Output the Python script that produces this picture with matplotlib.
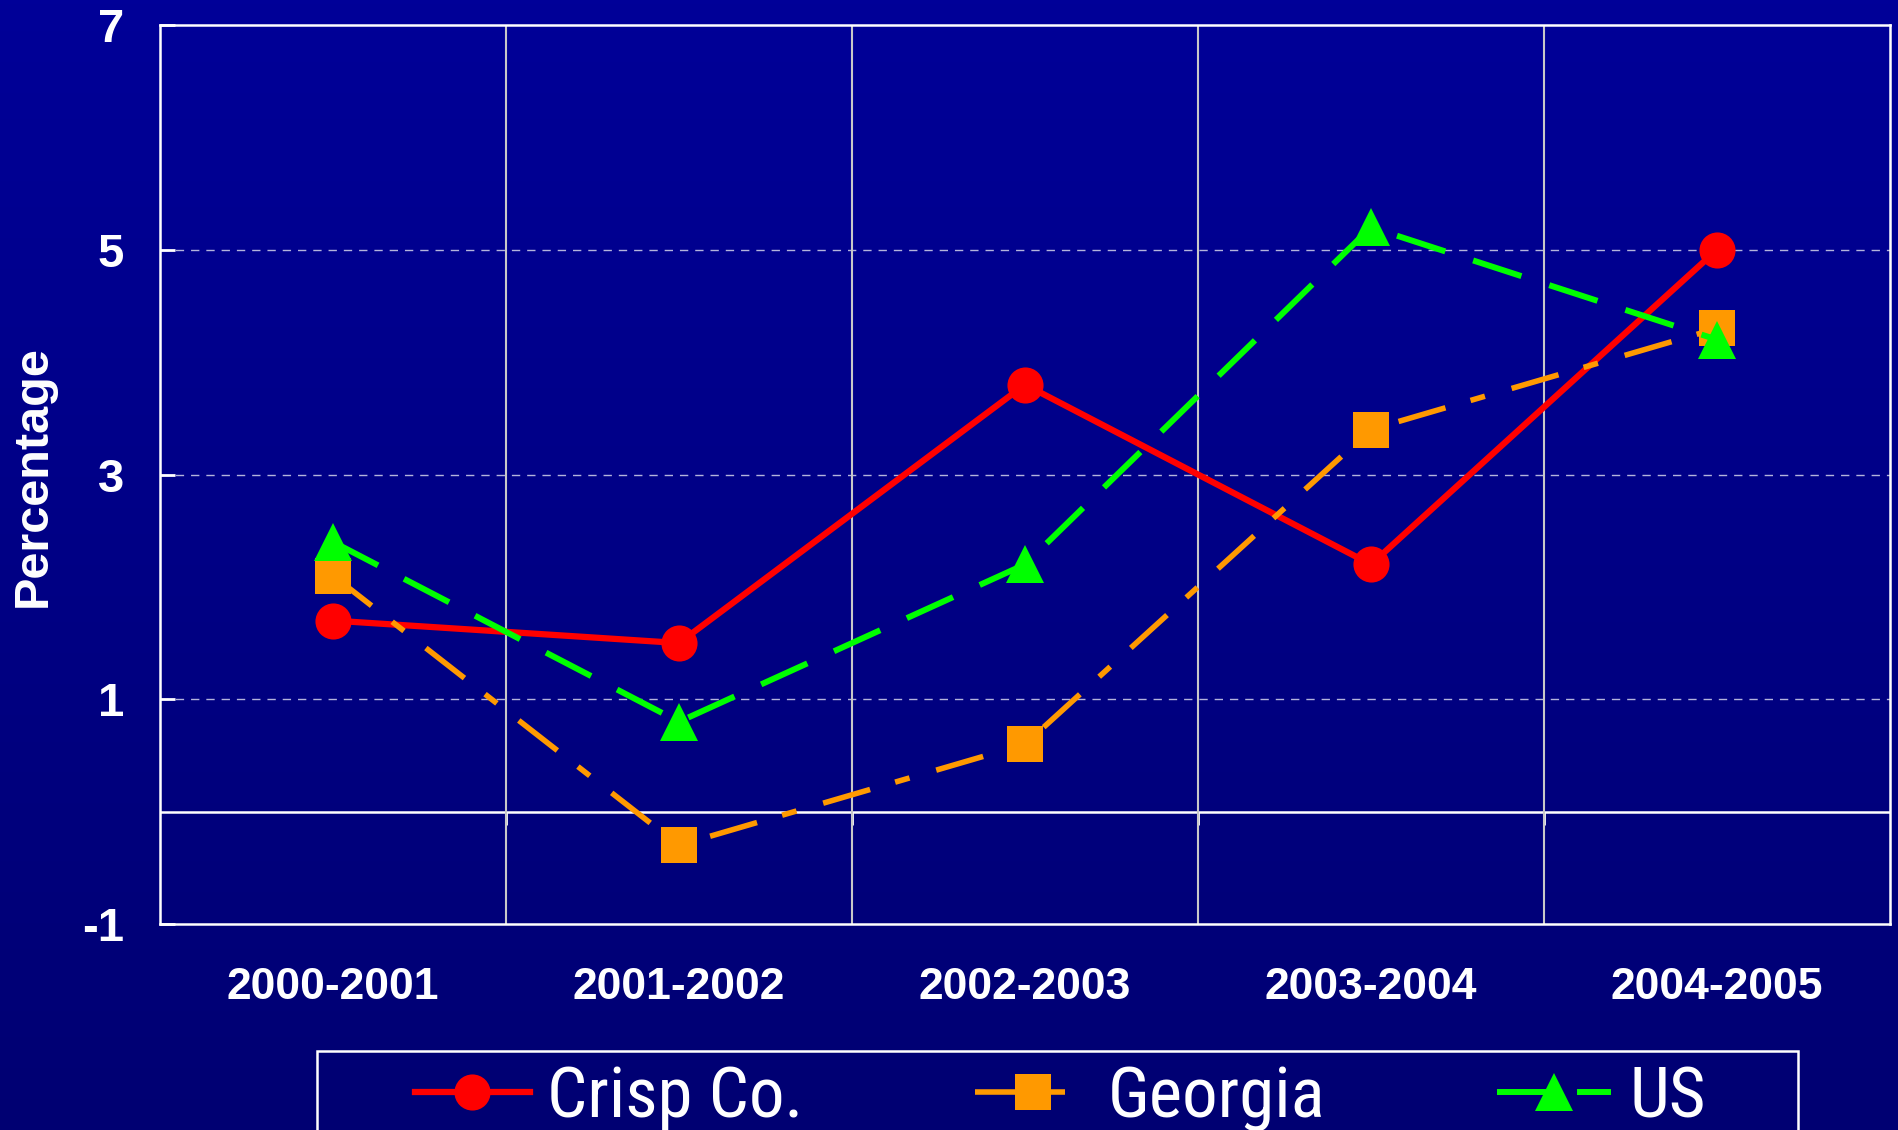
import matplotlib
matplotlib.use("Agg")
import matplotlib.pyplot as plt
import numpy as np
from matplotlib.colors import LinearSegmentedColormap
from matplotlib.patches import Rectangle
from matplotlib.lines import Line2D
from matplotlib import font_manager as fm

# ---- data ----
categories = ["2000-2001", "2001-2002", "2002-2003", "2003-2004", "2004-2005"]
crisp = [1.7, 1.5, 3.8, 2.2, 5.0]
georgia = [2.1, -0.3, 0.6, 3.4, 4.3]
us = [2.4, 0.8, 2.2, 5.2, 4.2]
series_names = ["Crisp Co.", "Georgia", "US"]
y_ticks = [-1, 1, 3, 5, 7]
y_label = "Percentage"

# look for a narrow/condensed sans font for the legend
narrow_file = None
cands = []
for f in fm.fontManager.ttflist:
    nm = (f.name + " " + f.fname).lower()
    st = f.stretch
    is_narrow = ("narrow" in nm or "condensed" in nm or
                 st in ("condensed", "semi-condensed", "extra-condensed") or
                 (isinstance(st, (int, float)) and st < 500))
    if is_narrow and f.weight in (400, "normal", "regular") and f.style == "normal":
        if "mono" in nm or "serif" in nm.replace("sans", ""):
            continue
        cands.append(f)
if cands:
    def rank(f):
        nm = (f.name + " " + f.fname).lower()
        if "liberation" in nm: return 0
        if "arial" in nm: return 1
        if "roboto" in nm: return 2
        if "open" in nm: return 3
        if "noto" in nm: return 4
        return 5
    cands.sort(key=rank)
    narrow_file = cands[0].fname

if narrow_file:
    leg_prop = fm.FontProperties(fname=narrow_file, size=51)
else:
    leg_prop = fm.FontProperties(family=["Liberation Sans", "DejaVu Sans"], size=42)

W, H = 1898, 1130
fig = plt.figure(figsize=(W / 100, H / 100), dpi=100)

# background gradient
bg = fig.add_axes([0, 0, 1, 1], zorder=-5)
cmap = LinearSegmentedColormap.from_list("bg", ["#000072", "#000098"])
grad = np.linspace(0, 1, 256).reshape(-1, 1)
bg.imshow(grad, aspect="auto", cmap=cmap, origin="lower", extent=[0, 1, 0, 1])
bg.set_axis_off()

ax = fig.add_axes([160 / W, 1 - 924 / H, (1890 - 160) / W, (924 - 25) / H])
ax.set_facecolor("none")

x = np.arange(len(categories))
bold = dict(family=["Liberation Sans", "DejaVu Sans"], weight="bold")

# grid
for yv in [1, 3, 5]:
    ax.axhline(yv, color="#B4B4DC", lw=1.0, linestyle=(0, (6, 5)), zorder=1)
ax.axhline(0, color="white", lw=1.8, zorder=1)
for xv in np.arange(0.5, len(categories) - 0.5, 1):
    ax.axvline(xv, color="#C8C8C8", lw=1.5, zorder=1)

# series
ax.plot(x, crisp, color="#FF0000", lw=4.5, marker="o", markersize=26,
        markeredgewidth=0, solid_capstyle="butt", zorder=3, label=series_names[0])
ax.plot(x, georgia, color="#FF9900", lw=4, marker="s", markersize=26,
        markeredgewidth=0, linestyle=(0, (8.8, 4.7, 2.7, 5.0)), zorder=4,
        label=series_names[1])
ax.plot(x, us, color="#00FF00", lw=4.3, marker="^", markersize=27,
        markeredgewidth=0, linestyle=(0, (8.5, 4.9)), zorder=5, label=series_names[2])

ax.set_xlim(-0.5, len(categories) - 0.5)
ax.set_ylim(-1, 7)
ax.set_yticks(y_ticks)
ax.set_yticklabels([str(v) for v in y_ticks], fontsize=34, color="white", **bold)
ax.tick_params(axis="y", direction="in", length=11, width=2, color="white", pad=26)
ax.set_xticks(x)
ax.set_xticklabels(categories, fontsize=32, color="white", **bold)
ax.tick_params(axis="x", length=0, pad=31)
for sp in ax.spines.values():
    sp.set_color("white")
    sp.set_linewidth(1.8)

# category axis line crossing at 0 with tick marks at boundaries
sec = ax.secondary_xaxis(1 / 8)
sec.set_xticks(np.arange(0.5, len(categories) - 0.5, 1))
sec.tick_params(direction="out", length=9, width=2, color="white", labelbottom=False)
sec.spines["bottom"].set_visible(False)

fig.text(33 / W, 1 - 476 / H, y_label, rotation=90, ha="center", va="center",
         fontsize=35, color="white", **bold)

# legend
handles = [
    Line2D([], [], color="#FF0000", lw=4.5, marker="o", markersize=26, markeredgewidth=0),
    Line2D([], [], color="#FF9900", lw=4, marker="s", markersize=26, markeredgewidth=0,
           linestyle=(0, (8.8, 4.7, 2.7, 5.0))),
    Line2D([], [], color="#00FF00", lw=4.3, marker="^", markersize=27, markeredgewidth=0,
           linestyle=(0, (8.5, 4.9))),
]
leg = fig.legend(handles, series_names, loc="upper left",
                 bbox_to_anchor=(415 / W, 1 - 1064 / H), ncol=3, frameon=False,
                 prop=leg_prop, labelcolor="white", handlelength=1.62,
                 handletextpad=0.25, columnspacing=2.42, borderpad=0, borderaxespad=0)
fig.patches.append(Rectangle((317 / W, -0.05), (1798 - 317) / W, 0.05 + 1 - 1051 / H,
                             transform=fig.transFigure, fill=False,
                             edgecolor="white", lw=1.8))

fig.savefig("out.png", dpi=100)
